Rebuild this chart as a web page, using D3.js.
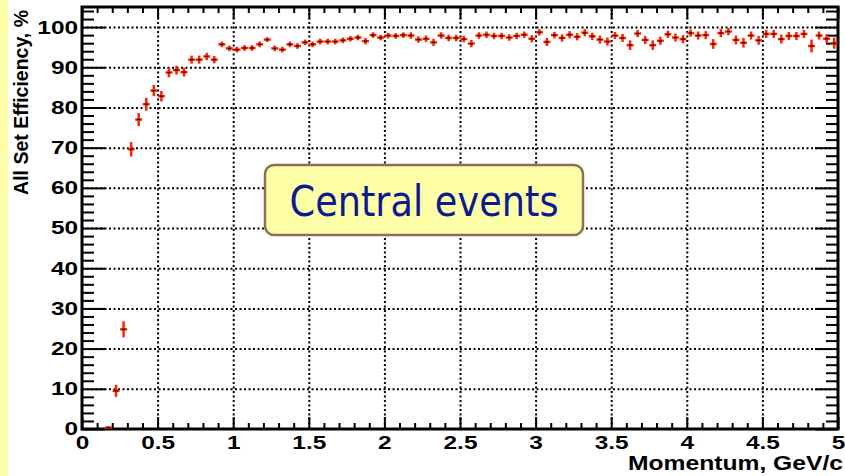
<!DOCTYPE html>
<html>
<head>
<meta charset="utf-8">
<script src="https://cdn.jsdelivr.net/npm/d3@7"></script>
<style>
	html, body { margin: 0; padding: 0; background: #fff; }
	svg { display: block; }
</style>
</head>
<body>
<div id="chart"></div>
<script>
// bin centres (GeV/c), efficiency (%), error (%)
const momentum = [
	0.175, 0.225, 0.275, 0.325, 0.375, 0.425, 0.475, 0.525, 0.575, 0.625,
	0.675, 0.725, 0.775, 0.825, 0.875, 0.925, 0.975, 1.025, 1.075, 1.125,
	1.175, 1.225, 1.275, 1.325, 1.375, 1.425, 1.475, 1.525, 1.575, 1.625,
	1.675, 1.725, 1.775, 1.825, 1.875, 1.925, 1.975, 2.025, 2.075, 2.125,
	2.175, 2.225, 2.275, 2.325, 2.375, 2.425, 2.475, 2.525, 2.575, 2.625,
	2.675, 2.725, 2.775, 2.825, 2.875, 2.925, 2.975, 3.025, 3.075, 3.125,
	3.175, 3.225, 3.275, 3.325, 3.375, 3.425, 3.475, 3.525, 3.575, 3.625,
	3.675, 3.725, 3.775, 3.825, 3.875, 3.925, 3.975, 4.025, 4.075, 4.125,
	4.175, 4.225, 4.275, 4.325, 4.375, 4.425, 4.475, 4.525, 4.575, 4.625,
	4.675, 4.725, 4.775, 4.825, 4.875, 4.925, 4.975
];
const efficiency = [
	0.0, 9.5, 24.8, 69.6, 77.0, 80.8, 84.2, 82.8, 88.7, 89.3,
	88.8, 91.9, 91.9, 92.7, 91.9, 95.7, 94.7, 94.4, 94.8, 94.8,
	95.7, 96.9, 94.7, 94.4, 95.7, 95.3, 96.2, 95.7, 96.4, 96.4,
	96.4, 96.7, 97.1, 97.4, 96.5, 98.0, 97.4, 97.9, 97.8, 98.0,
	97.9, 96.9, 97.1, 96.2, 97.9, 97.3, 97.3, 97.0, 95.9, 97.9,
	98.1, 97.8, 97.8, 97.4, 97.8, 98.1, 97.1, 98.7, 96.3, 98.0,
	97.3, 98.1, 97.6, 98.6, 97.7, 96.9, 96.4, 97.9, 97.3, 95.5,
	98.4, 96.8, 95.5, 96.6, 98.2, 97.4, 97.0, 98.5, 97.9, 98.0,
	95.8, 98.5, 98.9, 96.8, 96.1, 97.9, 96.7, 98.3, 98.3, 97.0,
	97.8, 97.8, 98.3, 95.3, 97.9, 97.1, 96.0
];
const errors = [
	0.0, 1.5, 2.0, 1.8, 1.6, 1.6, 1.4, 1.3, 1.2, 1.1,
	1.1, 1.0, 1.0, 0.9, 0.9, 0.7, 0.7, 0.7, 0.7, 0.7,
	0.7, 0.6, 0.7, 0.7, 0.7, 0.7, 0.7, 0.7, 0.7, 0.7,
	0.7, 0.7, 0.7, 0.7, 0.8, 0.7, 0.7, 0.7, 0.7, 0.7,
	0.8, 0.8, 0.8, 0.9, 0.8, 0.8, 0.8, 0.8, 0.9, 0.8,
	0.8, 0.8, 0.8, 0.8, 0.8, 0.8, 0.9, 0.8, 1.0, 0.8,
	0.9, 0.9, 0.9, 0.9, 0.9, 1.0, 1.0, 0.9, 1.0, 1.2,
	0.9, 1.0, 1.2, 1.0, 0.9, 1.0, 1.0, 0.9, 1.0, 1.0,
	1.2, 1.0, 0.9, 1.1, 1.2, 1.0, 1.1, 1.0, 1.0, 1.1,
	1.0, 1.0, 1.0, 1.6, 1.0, 1.1, 1.4
];
const BIN_HALF = 0.025;

const xMajorTicks = [0, 0.5, 1, 1.5, 2, 2.5, 3, 3.5, 4, 4.5, 5];
const xTickLabels = ['0', '0.5', '1', '1.5', '2', '2.5', '3', '3.5', '4', '4.5', '5'];
const yMajorTicks = [0, 10, 20, 30, 40, 50, 60, 70, 80, 90, 100];
const yTickLabels = ['0', '10', '20', '30', '40', '50', '60', '70', '80', '90', '100'];
const xGrid = [0.5, 1, 1.5, 2, 2.5, 3, 3.5, 4, 4.5];
const yGrid = [10, 20, 30, 40, 50, 60, 70, 80, 90, 100];

const X_TITLE = 'Momentum, GeV/c';
const Y_TITLE = 'All Set Efficiency, %';
const NOTE = 'Central events';

const COLOR_POINT = '#ff2200';
const FONT = '"Liberation Sans", Arial, Helvetica, sans-serif';

const W = 845, H = 476;
const m = { top: 7, right: 7, bottom: 47, left: 82 };
const width = W - m.left - m.right;
const height = H - m.top - m.bottom;

const svg = d3.select('#chart').append('svg')
	.attr('width', W)
	.attr('height', H);

// slide background strip on the left
svg.append('rect')
	.attr('x', 0).attr('y', 0)
	.attr('width', 8).attr('height', H)
	.attr('fill', '#ffffaa');

const g = svg.append('g')
	.attr('transform', 'translate(' + m.left + ',' + m.top + ')');

const x = d3.scaleLinear().domain([0, 5]).range([0, width]);
const y = d3.scaleLinear().domain([0, 105]).range([height, 0]);

const styleGrid = (sel) => {
	sel.select('.domain').remove();
	sel.selectAll('line')
		.attr('stroke', '#000')
		.attr('stroke-width', 2)
		.attr('stroke-dasharray', '2,2.5');
};

// dotted grid
g.append('g')
	.call(d3.axisLeft(y).tickValues(yGrid).tickSize(-width).tickFormat(''))
	.call(styleGrid);
g.append('g')
	.attr('transform', 'translate(0,' + height + ')')
	.call(d3.axisBottom(x).tickValues(xGrid).tickSize(-height).tickFormat(''))
	.call(styleGrid);

const styleTicks = (sel) => {
	sel.select('.domain').remove();
	sel.selectAll('line').attr('stroke', '#000').attr('stroke-width', 2);
};

const yMinor = d3.range(0, 105, 2).filter((v) => v % 10 !== 0);
const xMinor = d3.range(0, 50).map((i) => i / 10).filter((v, i) => i % 5 !== 0);

// left axis
g.append('g')
	.call(d3.axisLeft(y).tickValues(yMinor).tickSize(-12).tickFormat(''))
	.call(styleTicks);
const yAxisG = g.append('g')
	.call(d3.axisLeft(y).tickValues(yMajorTicks).tickSizeInner(-23).tickSizeOuter(0)
		.tickPadding(3).tickFormat((d, i) => yTickLabels[i]))
	.call(styleTicks);

// right axis
g.append('g')
	.attr('transform', 'translate(' + width + ',0)')
	.call(d3.axisRight(y).tickValues(yMinor).tickSize(-12).tickFormat(''))
	.call(styleTicks);
g.append('g')
	.attr('transform', 'translate(' + width + ',0)')
	.call(d3.axisRight(y).tickValues(yMajorTicks).tickSize(-23).tickFormat(''))
	.call(styleTicks);

// bottom axis
g.append('g')
	.attr('transform', 'translate(0,' + height + ')')
	.call(d3.axisBottom(x).tickValues(xMinor).tickSize(-6).tickFormat(''))
	.call(styleTicks);
const xAxisG = g.append('g')
	.attr('transform', 'translate(0,' + height + ')')
	.call(d3.axisBottom(x).tickValues(xMajorTicks).tickSizeInner(-12).tickSizeOuter(0)
		.tickPadding(7).tickFormat((d, i) => xTickLabels[i]))
	.call(styleTicks);

// top axis
g.append('g')
	.call(d3.axisTop(x).tickValues(xMinor).tickSize(-6).tickFormat(''))
	.call(styleTicks);
g.append('g')
	.call(d3.axisTop(x).tickValues(xMajorTicks).tickSize(-12).tickFormat(''))
	.call(styleTicks);

[yAxisG, xAxisG].forEach((ax) => {
	ax.attr('font-family', FONT).attr('font-size', 18.5);
	ax.selectAll('text')
		.attr('fill', '#000')
		.attr('font-weight', 'bold')
		.attr('transform', 'scale(1.32,1)');
});

// frame
g.append('rect')
	.attr('x', 0).attr('y', 0)
	.attr('width', width).attr('height', height)
	.attr('fill', 'none')
	.attr('stroke', '#000')
	.attr('stroke-width', 3);

// data points with error bars
const points = momentum.map((p, i) => ({ p: p, v: efficiency[i], e: errors[i] }));

const pts = g.append('g').selectAll('g.pt')
	.data(points)
	.enter()
	.append('g')
	.attr('class', 'pt');

pts.append('line')
	.attr('x1', (d) => x(d.p)).attr('x2', (d) => x(d.p))
	.attr('y1', (d) => y(d.v - d.e)).attr('y2', (d) => y(d.v + d.e))
	.attr('stroke', COLOR_POINT)
	.attr('stroke-width', 2.5);

pts.append('line')
	.attr('x1', (d) => x(d.p - BIN_HALF * 0.92)).attr('x2', (d) => x(d.p + BIN_HALF * 0.92))
	.attr('y1', (d) => y(d.v) - (d.v === 0 ? 1.5 : 0))
	.attr('y2', (d) => y(d.v) - (d.v === 0 ? 1.5 : 0))
	.attr('stroke', COLOR_POINT)
	.attr('stroke-width', 2.5);

pts.append('line')
	.attr('x1', (d) => x(d.p) - 1.5).attr('x2', (d) => x(d.p) + 1.5)
	.attr('y1', (d) => y(d.v) - (d.v === 0 ? 1.5 : 0))
	.attr('y2', (d) => y(d.v) - (d.v === 0 ? 1.5 : 0))
	.attr('stroke', '#000')
	.attr('stroke-width', 1.2);

// axis titles
svg.append('text')
	.attr('x', 843).attr('y', 470)
	.attr('text-anchor', 'end')
	.attr('font-family', FONT)
	.attr('font-weight', 'bold')
	.attr('font-size', 20)
	.attr('textLength', 215)
	.attr('lengthAdjust', 'spacingAndGlyphs')
	.text(X_TITLE);

svg.append('text')
	.attr('transform', 'translate(28,10) rotate(-90)')
	.attr('text-anchor', 'end')
	.attr('font-family', FONT)
	.attr('font-weight', 'bold')
	.attr('font-size', 19.5)
	.text(Y_TITLE);

// annotation box
svg.append('rect')
	.attr('x', 265).attr('y', 165)
	.attr('width', 318).attr('height', 70)
	.attr('rx', 9).attr('ry', 9)
	.attr('fill', '#ffffa8')
	.attr('stroke', '#8c6e55')
	.attr('stroke-width', 2.5);

svg.append('text')
	.attr('x', 424).attr('y', 216)
	.attr('text-anchor', 'middle')
	.attr('font-family', '"DejaVu Sans", Verdana, sans-serif')
	.attr('font-size', 42)
	.attr('fill', '#0c1a8f')
	.attr('textLength', 269)
	.attr('lengthAdjust', 'spacingAndGlyphs')
	.text(NOTE);
</script>
</body>
</html>
